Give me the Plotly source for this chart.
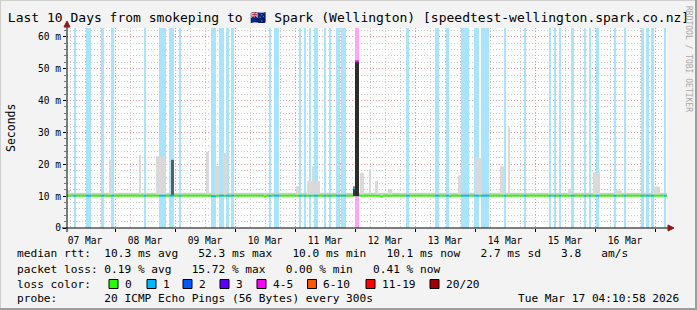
import pandas as pd
import plotly.graph_objects as go

FONT = "DejaVu Sans Mono"
W, H = 697, 310
ML, MR, MT, MB = 67, 30, 28, 82
PW, PH = W - ML - MR, H - MT - MB
NB = "\u00a0"


def xp(px):
    return (px - ML) / PW


def yp(py):
    return (H - MB - py) / PH


title_text = "Last 10 Days from smokeping to 🇳🇿 Spark (Wellington) [speedtest-wellington.spark.co.nz]"
range_start = "2026-03-07 04:48"
range_end = "2026-03-17 04:48"
y_top = 62.76  # upper limit = 1.2 x max median
y_tick_vals = [0, 10, 20, 30, 40, 50, 60]
y_tick_text = ["0", "10 m", "20 m", "30 m", "40 m", "50 m", "60 m"]

# ---- loss periods (full-height bars) ----
loss_start = [
    "2026-03-07 07:36", "2026-03-07 12:24", "2026-03-07 18:24", "2026-03-07 22:24",
    "2026-03-08 11:36", "2026-03-08 17:36", "2026-03-08 21:36", "2026-03-09 01:36",
    "2026-03-09 14:24", "2026-03-09 17:36", "2026-03-09 20:24", "2026-03-09 22:24",
    "2026-03-10 13:36", "2026-03-10 15:36", "2026-03-11 01:36", "2026-03-11 03:36",
    "2026-03-11 05:36", "2026-03-11 07:36", "2026-03-11 11:36", "2026-03-11 13:36",
    "2026-03-11 16:24", "2026-03-11 18:24", "2026-03-12 00:00", "2026-03-12 20:24",
    "2026-03-13 08:00", "2026-03-13 12:24", "2026-03-13 18:24", "2026-03-13 23:36",
    "2026-03-14 02:24", "2026-03-14 11:36", "2026-03-14 19:36", "2026-03-15 05:36",
    "2026-03-15 07:36", "2026-03-15 09:36", "2026-03-15 14:24", "2026-03-15 19:36",
    "2026-03-15 21:36", "2026-03-16 00:24", "2026-03-16 07:36", "2026-03-16 11:36",
    "2026-03-16 18:24", "2026-03-16 20:24", "2026-03-16 22:24", "2026-03-17 03:36",
]
loss_end = [
    "2026-03-07 08:24", "2026-03-07 14:24", "2026-03-07 19:36", "2026-03-07 23:36",
    "2026-03-08 12:24", "2026-03-08 20:24", "2026-03-08 23:36", "2026-03-09 02:24",
    "2026-03-09 16:24", "2026-03-09 19:36", "2026-03-09 21:36", "2026-03-09 23:36",
    "2026-03-10 14:24", "2026-03-10 17:36", "2026-03-11 02:24", "2026-03-11 04:24",
    "2026-03-11 06:24", "2026-03-11 09:12", "2026-03-11 12:24", "2026-03-11 14:24",
    "2026-03-11 18:00", "2026-03-11 20:24", "2026-03-12 01:36", "2026-03-12 21:36",
    "2026-03-13 09:36", "2026-03-13 13:36", "2026-03-13 21:36", "2026-03-14 01:36",
    "2026-03-14 05:36", "2026-03-14 12:24", "2026-03-14 20:24", "2026-03-15 06:24",
    "2026-03-15 08:24", "2026-03-15 10:24", "2026-03-15 15:36", "2026-03-15 20:24",
    "2026-03-15 22:24", "2026-03-16 01:36", "2026-03-16 08:24", "2026-03-16 12:24",
    "2026-03-16 19:36", "2026-03-16 21:36", "2026-03-16 23:36", "2026-03-17 04:24",
]
loss_count = [1] * 22 + [4] + [1] * 21

# ---- smoke (ping spread) ----
smoke_floor_low = 10.0
smoke_floor_top = 11.1
smoke_start = [
    "2026-03-07 04:48", "2026-03-07 21:36", "2026-03-08 09:36", "2026-03-08 16:24",
    "2026-03-09 12:24", "2026-03-09 16:00", "2026-03-09 19:12", "2026-03-11 00:24",
    "2026-03-11 04:48", "2026-03-11 06:48", "2026-03-11 07:36", "2026-03-12 02:00",
    "2026-03-12 05:36", "2026-03-12 08:00", "2026-03-12 13:12", "2026-03-13 17:12",
    "2026-03-14 00:00", "2026-03-14 10:00", "2026-03-14 13:12", "2026-03-15 13:12",
    "2026-03-15 23:12", "2026-03-16 08:00", "2026-03-16 23:12",
]
smoke_end = [
    "2026-03-07 06:00", "2026-03-07 22:48", "2026-03-08 10:24", "2026-03-08 20:24",
    "2026-03-09 13:36", "2026-03-09 18:00", "2026-03-09 20:48", "2026-03-11 01:36",
    "2026-03-11 06:48", "2026-03-11 07:36", "2026-03-11 10:00", "2026-03-12 03:36",
    "2026-03-12 06:24", "2026-03-12 09:12", "2026-03-12 14:48", "2026-03-13 18:24",
    "2026-03-14 02:48", "2026-03-14 11:36", "2026-03-14 14:00", "2026-03-15 14:48",
    "2026-03-16 02:00", "2026-03-16 10:48", "2026-03-17 02:00",
]
smoke_top = [
    11.9, 21.5, 23.0, 22.5, 23.9, 19.4, 23.6, 13.1, 14.7, 19.4, 14.7, 17.3,
    18.4, 14.7, 12.3, 16.5, 22.0, 19.4, 31.5, 12.3, 17.4, 11.8, 13.0,
]

# dense smoke (dark)
dense_start = ["2026-03-08 22:24", "2026-03-11 23:12", "2026-03-12 00:00"]
dense_end = ["2026-03-08 23:36", "2026-03-12 00:00", "2026-03-12 01:36"]
dense_low = [10.3, 10.0, 10.0]
dense_top = [21.4, 13.0, 52.3]
dense_color = ["#5c5c5c", "#3a3a3a", "#2c2c2c"]

# ---- median rtt ----
median_typical = 10.15
med_exc_start = ["2026-03-09 14:24", "2026-03-10 11:36", "2026-03-11 23:12",
                 "2026-03-12 00:00", "2026-03-12 10:00", "2026-03-13 13:36"]
med_exc_end = ["2026-03-09 16:24", "2026-03-10 12:24", "2026-03-12 00:00",
               "2026-03-12 01:36", "2026-03-12 11:12", "2026-03-13 14:24"]
med_exc_val = [10.0, 9.9, 12.5, 52.3, 9.9, 9.95]
med_exc_loss = [1, 0, 1, 4, 0, 0]

# ---- legend ----
loss_labels = ["0", "1", "2", "3", "4-5", "6-10", "11-19", "20/20"]
loss_colors = ["#26ff00", "#00b8ff", "#0059ff", "#5e00ff", "#ff00ff", "#ff5500", "#ff0000", "#a10000"]
loss_lower = [0, 1, 2, 3, 4, 6, 11, 20]
band_colors = {1: "#a9e4fb", 4: "#ffa4ff"}

stats_row1 = ["median rtt:  ", "10.3 ms avg   ", "52.3 ms max   ", "10.0 ms min   ",
              "10.1 ms now   ", "2.7 ms sd   ", "3.8   ", "am/s"]
stats_row2 = ["packet loss: ", "0.19 % avg   ", "15.72 % max   ", "0.00 % min   ", "0.41 % now"]
probe_row = ["probe:       ", "20 ICMP Echo Pings (56 Bytes) every 300s"]
stamp_text = "Tue Mar 17 04:10:58 2026"
watermark = "RRDTOOL / TOBI OETIKER"


def color_for(loss):
    c = loss_colors[0]
    for lo, col in zip(loss_lower, loss_colors):
        if loss >= lo:
            c = col
    return c


def spans(starts, ends):
    s = pd.to_datetime(pd.Series(starts))
    e = pd.to_datetime(pd.Series(ends))
    centers = s + (e - s) / 2
    widths = (e - s).dt.total_seconds() * 1000.0
    return list(centers), list(widths)


fig = go.Figure()

# loss bars
for cnt in sorted(set(loss_count)):
    idx = [i for i, c in enumerate(loss_count) if c == cnt]
    c, w = spans([loss_start[i] for i in idx], [loss_end[i] for i in idx])
    fig.add_trace(go.Bar(x=c, width=w, y=[y_top] * len(idx), base=[0] * len(idx),
                         marker=dict(color=band_colors[cnt], line=dict(width=0)),
                         hoverinfo="skip", showlegend=False))

# smoke floor
c, w = spans([range_start], [range_end])
fig.add_trace(go.Bar(x=c, width=w, y=[smoke_floor_top - smoke_floor_low], base=[smoke_floor_low],
                     marker=dict(color="#cdcdcd", line=dict(width=0)), hoverinfo="skip", showlegend=False))
# smoke spikes
c, w = spans(smoke_start, smoke_end)
fig.add_trace(go.Bar(x=c, width=w, y=[t - smoke_floor_low for t in smoke_top], base=[smoke_floor_low] * len(c),
                     marker=dict(color="#d9d9d9", line=dict(width=0)), hoverinfo="skip", showlegend=False))
# dense smoke
c, w = spans(dense_start, dense_end)
fig.add_trace(go.Bar(x=c, width=w, y=[t - l for t, l in zip(dense_top, dense_low)], base=dense_low,
                     marker=dict(color=dense_color, line=dict(width=0)), hoverinfo="skip", showlegend=False))

# median line segments
T = pd.Timestamp
pts = {T(range_start), T(range_end)}
for a, b in zip(loss_start, loss_end):
    pts |= {T(a), T(b)}
for a, b in zip(med_exc_start, med_exc_end):
    pts |= {T(a), T(b)}
pts = sorted(p for p in pts if T(range_start) <= p <= T(range_end))
segs = []
for a, b in zip(pts[:-1], pts[1:]):
    m = a + (b - a) / 2
    val, loss = median_typical, 0
    for s, e, cnt in zip(loss_start, loss_end, loss_count):
        if T(s) <= m < T(e):
            loss = cnt
    for s, e, v, cnt in zip(med_exc_start, med_exc_end, med_exc_val, med_exc_loss):
        if T(s) <= m < T(e):
            val, loss = v, cnt
    if segs and segs[-1][2] == val and segs[-1][3] == loss and segs[-1][1] == a:
        segs[-1][1] = b
    else:
        segs.append([a, b, val, loss])
by_color = {}
for a, b, v, loss in segs:
    col = color_for(loss)
    xs, ys = by_color.setdefault(col, ([], []))
    xs += [a, b, None]
    ys += [v, v, None]
for col, (xs, ys) in by_color.items():
    fig.add_trace(go.Scatter(x=xs, y=ys, mode="lines", line=dict(color=col, width=2),
                             hoverinfo="skip", showlegend=False))

grid_minor = "#c9c9c9"
grid_major = "#e89c9c"
fig.update_layout(
    width=W, height=H, margin=dict(l=ML, r=MR, t=MT, b=MB),
    paper_bgcolor="#f3f3f3", plot_bgcolor="#ffffff",
    barmode="overlay", showlegend=False,
    font=dict(family=FONT, size=11, color="#000"),
    title=dict(text=title_text, x=0.5, xref="container", xanchor="center",
               y=1 - 17.5 / H, yref="container", yanchor="middle",
               font=dict(family=FONT, size=13, color="#000")),
    xaxis=dict(type="date", range=[range_start, range_end], showline=False, zeroline=False,
               tick0="2026-03-07", dtick=86400000, ticklabelmode="period", tickformat="%d %b",
               showgrid=True, gridcolor=grid_major, griddash="1px,2px", gridwidth=1,
               ticks="outside", ticklen=3, tickcolor="#000",
               tickfont=dict(family=FONT, size=9.6, color="#000"),
               minor=dict(dtick=21600000, tick0="2026-03-07", showgrid=True, gridcolor=grid_minor,
                          griddash="1px,2px", gridwidth=1, ticks=""),
               fixedrange=True),
    yaxis=dict(range=[0, y_top], tickvals=y_tick_vals, ticktext=y_tick_text, showline=False, zeroline=False,
               showgrid=True, gridcolor=grid_major, griddash="1px,2px", gridwidth=1,
               ticks="outside", ticklen=3, tickcolor="#000",
               tickfont=dict(family=FONT, size=9.6, color="#000"),
               minor=dict(dtick=2, tick0=0, showgrid=True, gridcolor=grid_minor, griddash="1px,2px",
                          gridwidth=1, ticks="outside", ticklen=2, tickcolor="#777"),
               fixedrange=True),
)

shapes = []
# frame shading
shapes += [
    dict(type="rect", xref="paper", yref="paper", x0=xp(0), x1=xp(W), y0=yp(H), y1=yp(H - 2),
         fillcolor="#9e9e9e", line=dict(width=0), layer="above"),
    dict(type="rect", xref="paper", yref="paper", x0=xp(W - 2), x1=xp(W), y0=yp(H), y1=yp(0),
         fillcolor="#9e9e9e", line=dict(width=0), layer="above"),
    dict(type="rect", xref="paper", yref="paper", x0=xp(0), x1=xp(W - 2), y0=yp(1), y1=yp(0),
         fillcolor="#cfcfcf", line=dict(width=0), layer="above"),
    dict(type="rect", xref="paper", yref="paper", x0=xp(0), x1=xp(1), y0=yp(H - 2), y1=yp(0),
         fillcolor="#cfcfcf", line=dict(width=0), layer="above"),
]
# axes with arrows
shapes += [
    dict(type="line", xref="paper", yref="paper", x0=xp(62), x1=xp(671), y0=0, y1=0,
         line=dict(color="#000", width=1), layer="above"),
    dict(type="line", xref="paper", yref="paper", x0=0, x1=0, y0=yp(232), y1=yp(24),
         line=dict(color="#000", width=1), layer="above"),
    dict(type="path", xref="paper", yref="paper",
         path=f"M {xp(668)} {yp(225)} L {xp(674)} {yp(228)} L {xp(668)} {yp(231)} Z",
         fillcolor="#8b1a1a", line=dict(color="#8b1a1a", width=1), layer="above"),
    dict(type="path", xref="paper", yref="paper",
         path=f"M {xp(64)} {yp(27)} L {xp(67)} {yp(21)} L {xp(70)} {yp(27)} Z",
         fillcolor="#8b1a1a", line=dict(color="#8b1a1a", width=1), layer="above"),
]

ann = []
LEG = 11.16


def text_at(txt, px, py, anchor="left", size=LEG, color="#000", angle=0):
    ann.append(dict(text=txt.replace(" ", NB), x=xp(px), y=yp(py), xref="paper", yref="paper",
                    xanchor=anchor, yanchor="middle", showarrow=False, textangle=angle,
                    borderpad=0, font=dict(family=FONT, size=size, color=color)))


text_at("Seconds", 11, 128, anchor="center", size=11.5, angle=-90)
text_at(watermark, 689, 59, anchor="center", size=8, color="#a8a8a8", angle=90)

text_at("".join(stats_row1), 16, 254)
text_at("".join(stats_row2), 16, 269)
text_at("loss color:", 16, 284)
box_x = [109, 147, 183, 220, 257, 307.5, 366, 430]
for lab, col, bx in zip(loss_labels, loss_colors, box_x):
    shapes.append(dict(type="rect", xref="paper", yref="paper", x0=xp(bx), x1=xp(bx + 9),
                       y0=yp(288.5), y1=yp(279.5), fillcolor=col, line=dict(color="#000", width=1),
                       layer="above"))
    text_at(lab, bx + 14.5, 284)
text_at("".join(probe_row), 16, 298)
text_at(stamp_text, 680, 298, anchor="right")

fig.update_layout(shapes=shapes, annotations=ann)
fig.write_html("out.html")
